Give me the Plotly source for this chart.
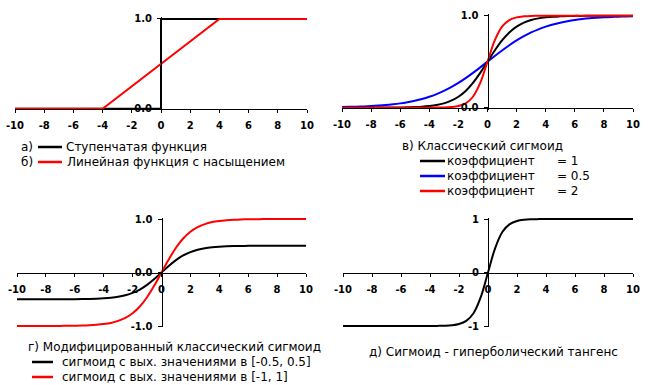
import plotly.graph_objects as go

W, H = 650, 385

# ---------------- data ----------------
x_step = [-10, 0, 0, 10]
y_step = [0, 0, 1, 1]
x_lin = [-10, -4, 4, 10]
y_lin = [0, 0, 1, 1]

x_grid = [-10, -9.5, -9, -8.5, -8, -7.5, -7, -6.5, -6, -5.5, -5, -4.5, -4, -3.5, -3,
          -2.5, -2, -1.5, -1, -0.5, 0, 0.5, 1, 1.5, 2, 2.5, 3, 3.5, 4, 4.5, 5, 5.5,
          6, 6.5, 7, 7.5, 8, 8.5, 9, 9.5, 10]

sig_k1 = [0.000, 0.000, 0.000, 0.000, 0.000, 0.001, 0.001, 0.002, 0.002, 0.004, 0.007,
          0.011, 0.018, 0.029, 0.047, 0.076, 0.119, 0.182, 0.269, 0.378, 0.500, 0.622,
          0.731, 0.818, 0.881, 0.924, 0.953, 0.971, 0.982, 0.989, 0.993, 0.996, 0.998,
          0.998, 0.999, 0.999, 1.000, 1.000, 1.000, 1.000, 1.000]
sig_k05 = [0.007, 0.009, 0.011, 0.014, 0.018, 0.023, 0.029, 0.037, 0.047, 0.060, 0.076,
           0.095, 0.119, 0.148, 0.182, 0.223, 0.269, 0.321, 0.378, 0.438, 0.500, 0.562,
           0.622, 0.679, 0.731, 0.777, 0.818, 0.852, 0.881, 0.905, 0.924, 0.940, 0.953,
           0.963, 0.971, 0.977, 0.982, 0.986, 0.989, 0.991, 0.993]
sig_k2 = [0.000, 0.000, 0.000, 0.000, 0.000, 0.000, 0.000, 0.000, 0.000, 0.000, 0.000,
          0.000, 0.000, 0.001, 0.002, 0.007, 0.018, 0.047, 0.119, 0.269, 0.500, 0.731,
          0.881, 0.953, 0.982, 0.993, 0.998, 0.999, 1.000, 1.000, 1.000, 1.000, 1.000,
          1.000, 1.000, 1.000, 1.000, 1.000, 1.000, 1.000, 1.000]
mod_half = [-0.500, -0.500, -0.500, -0.500, -0.500, -0.499, -0.499, -0.498, -0.498, -0.496,
            -0.493, -0.489, -0.482, -0.471, -0.453, -0.424, -0.381, -0.318, -0.231, -0.122,
            0.000, 0.122, 0.231, 0.318, 0.381, 0.424, 0.453, 0.471, 0.482, 0.489, 0.493,
            0.496, 0.498, 0.498, 0.499, 0.499, 0.500, 0.500, 0.500, 0.500, 0.500]
mod_one = [-1.000, -1.000, -1.000, -1.000, -0.999, -0.999, -0.998, -0.997, -0.995, -0.992,
           -0.987, -0.978, -0.964, -0.942, -0.905, -0.848, -0.762, -0.635, -0.462, -0.245,
           0.000, 0.245, 0.462, 0.635, 0.762, 0.848, 0.905, 0.942, 0.964, 0.978, 0.987,
           0.992, 0.995, 0.997, 0.998, 0.999, 0.999, 1.000, 1.000, 1.000, 1.000]
tanh_v = [-1.000, -1.000, -1.000, -1.000, -1.000, -1.000, -1.000, -1.000, -1.000, -1.000,
          -1.000, -1.000, -0.999, -0.998, -0.995, -0.987, -0.964, -0.905, -0.762, -0.462,
          0.000, 0.462, 0.762, 0.905, 0.964, 0.987, 0.995, 0.998, 0.999, 1.000, 1.000,
          1.000, 1.000, 1.000, 1.000, 1.000, 1.000, 1.000, 1.000, 1.000, 1.000]

x_ticks = [-10, -8, -6, -4, -2, 0, 2, 4, 6, 8, 10]
x_tick_text = ["-10", "-8", "-6", "-4", "-2", "0", "2", "4", "6", "8", "10"]
y_ticks_01 = [0, 1]
y_text_01 = ["0.0", "1.0"]
y_ticks_m11 = [-1, 0, 1]
y_text_m11a = ["-1.0", "0.0", "1.0"]
y_text_m11b = ["-1", "0", "1"]

BLACK, RED, BLUE = "#000000", "#ff0000", "#0000ff"

# ---------------- geometry helpers (reference pixels -> paper) ----------------
def PX(p):
    return p / W

def PY(p):
    return 1 - p / H

def ygeom(v_a, p_a, v_b, p_b, lo, hi):
    k = (p_b - p_a) / (v_b - v_a)
    plo = p_a + (lo - v_a) * k
    phi = p_a + (hi - v_a) * k
    p0 = p_a + (0 - v_a) * k
    return [PY(plo), PY(phi)], PY(p0)

panels = [
    dict(xp=(15, 307), yp=(0, 108.7, 1, 19), yr=(-0.02, 1.02), tv=y_ticks_01, tt=y_text_01),
    dict(xp=(342, 633), yp=(0, 107.7, 1, 15.7), yr=(-0.02, 1.02), tv=y_ticks_01, tt=y_text_01),
    dict(xp=(17, 306), yp=(-1, 326, 1, 219), yr=(-1.02, 1.02), tv=y_ticks_m11, tt=y_text_m11a),
    dict(xp=(343, 633), yp=(-1, 326, 1, 219), yr=(-1.02, 1.02), tv=y_ticks_m11, tt=y_text_m11b),
]

tickfont = dict(family="DejaVu Sans", size=10, color=BLACK, weight="bold")

fig = go.Figure()
layout = dict(
    width=W, height=H, autosize=False,
    margin=dict(l=0, r=0, t=0, b=0, pad=0, autoexpand=False),
    paper_bgcolor="white", plot_bgcolor="rgba(0,0,0,0)", showlegend=False,
)

for i, p in enumerate(panels, start=1):
    sfx = "" if i == 1 else str(i)
    xdom = [PX(p["xp"][0]), PX(p["xp"][1])]
    ydom, ypos0 = ygeom(*p["yp"], *p["yr"])
    xpos0 = (xdom[0] + xdom[1]) / 2
    layout["xaxis" + sfx] = dict(
        domain=xdom, range=[-10, 10], anchor="free", position=ypos0, automargin=False,
        showline=True, linecolor=BLACK, linewidth=1, ticks="outside", ticklen=3,
        tickcolor=BLACK, tickwidth=1, tickvals=x_ticks, ticktext=x_tick_text, tickfont=tickfont,
        ticklabelstandoff=4, ticklabeloverflow="allow",
        showgrid=False, zeroline=False, fixedrange=True,
    )
    layout["yaxis" + sfx] = dict(
        domain=ydom, range=list(p["yr"]), anchor="free", position=xpos0, automargin=False,
        showline=True, linecolor=BLACK, linewidth=1, ticks="outside", ticklen=4,
        tickcolor=BLACK, tickwidth=1, tickvals=p["tv"], ticktext=p["tt"], tickfont=tickfont,
        ticklabelstandoff=3, ticklabeloverflow="allow",
        showgrid=False, zeroline=False, fixedrange=True,
    )

def add(x, y, color, ax, shape="spline"):
    fig.add_trace(go.Scatter(x=x, y=y, mode="lines",
                             line=dict(color=color, width=2, shape=shape, smoothing=1 if shape == "spline" else None),
                             xaxis="x" + ax, yaxis="y" + ax, hoverinfo="skip"))

add(x_step, y_step, BLACK, "", "linear")
add(x_lin, y_lin, RED, "", "linear")
add(x_grid, sig_k05, BLUE, "2")
add(x_grid, sig_k1, BLACK, "2")
add(x_grid, sig_k2, RED, "2")
add(x_grid, mod_half, BLACK, "3")
add(x_grid, mod_one, RED, "3")
add(x_grid, tanh_v, BLACK, "4")

fig.update_layout(**layout)

# ---------------- legends as text ----------------
FONT = dict(family="DejaVu Sans", size=12, color=BLACK)

def txt(px, py, s, font=FONT):
    fig.add_annotation(x=PX(px), y=PY(py), xref="paper", yref="paper", text=s,
                       showarrow=False, xanchor="left", yanchor="middle", font=font,
                       borderpad=0)

def seg(px0, px1, py, color):
    fig.add_shape(type="line", xref="paper", yref="paper", x0=PX(px0), x1=PX(px1),
                  y0=PY(py), y1=PY(py), line=dict(color=color, width=2.5))

# panel 1
txt(20, 147, "а)")
seg(38, 62, 147, BLACK)
txt(65, 147, "Ступенчатая функция")
txt(20, 162, "б)")
seg(38, 62, 162, RED)
txt(66, 162, "Линейная функция с насыщением")

# panel 2
txt(401, 146, "в) Классический сигмоид")
for row, (col, val) in enumerate([(BLACK, "= 1"), (BLUE, "= 0.5"), (RED, "= 2")]):
    yy = 161 + 15 * row
    seg(420, 445, yy, col)
    txt(446, yy, "коэффициент")
    txt(556, yy, val)

# panel 3
txt(27, 347, "г) Модифицированный классический сигмоид")
seg(32, 53, 362, BLACK)
txt(61, 362, "сигмоид с вых. значениями в [-0.5, 0.5]")
seg(32, 53, 377, RED)
txt(61, 377, "сигмоид с вых. значениями в [-1, 1]")

# panel 4
txt(368, 352, "д) Сигмоид - гиперболический тангенс")

# let the figure fill the page from its top-left corner (no default body margin)
fig.write_html("out.html",
               config={"displayModeBar": False, "staticPlot": True},
               post_script="document.body.style.margin='0';document.body.style.overflow='hidden';")
